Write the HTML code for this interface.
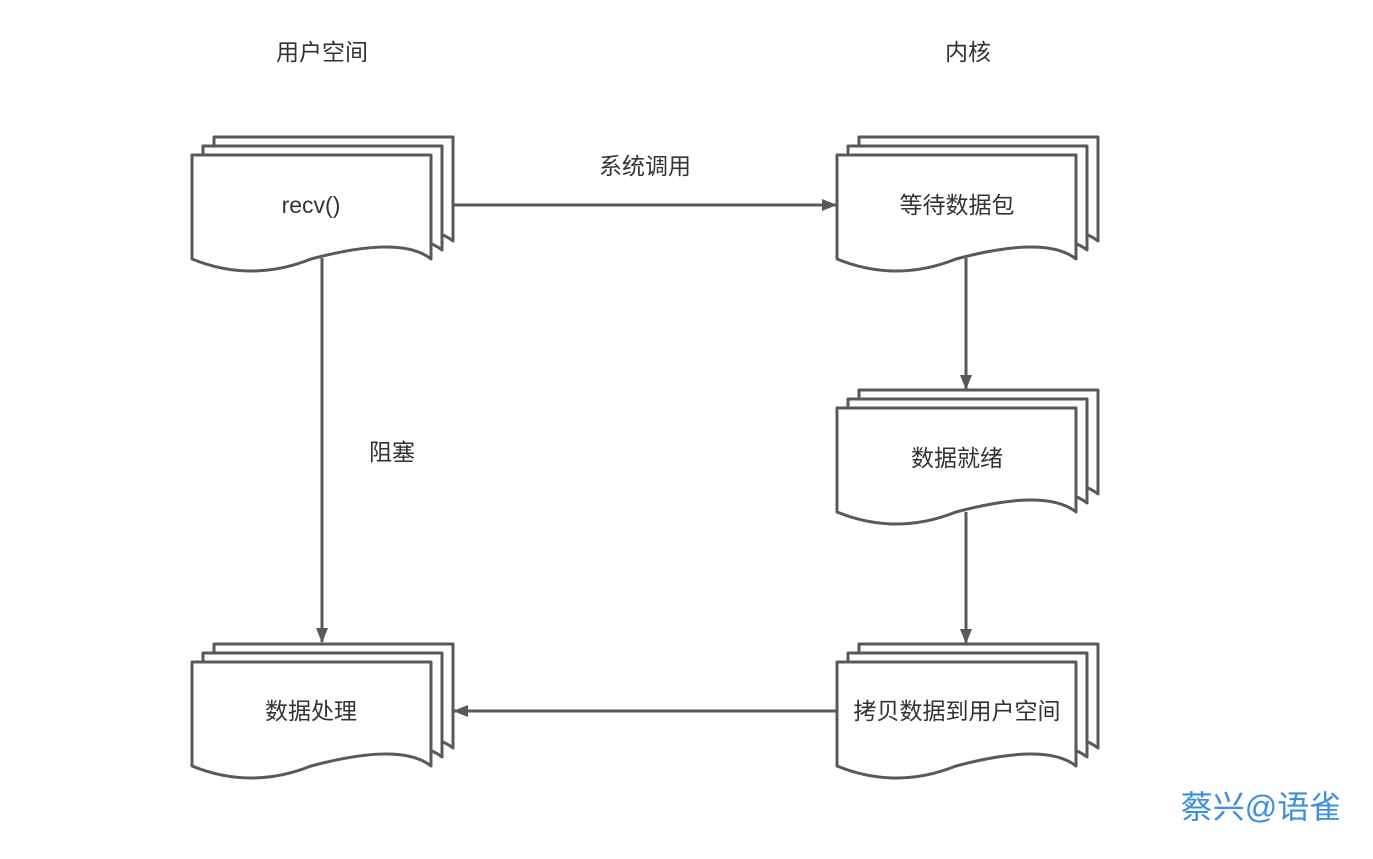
<!DOCTYPE html>
<html><head><meta charset="utf-8"><style>
html,body{margin:0;padding:0;background:#fff;}
svg{display:block;}
text{font-family:"Liberation Sans","Noto Sans CJK SC",sans-serif;fill:#333;}
</style></head><body>
<svg width="1373" height="859" viewBox="0 0 1373 859" xmlns="http://www.w3.org/2000/svg">
<defs>
<g id="doc">
<path d="M22,-18 H261 V86 Q231,62 141,86 Q81,110 22,86 Z" fill="#fff" stroke="#595959" stroke-width="3" stroke-linejoin="round"/>
<path d="M11,-9 H250 V95 Q220,71 130,95 Q70,119 11,95 Z" fill="#fff" stroke="#595959" stroke-width="3" stroke-linejoin="round"/>
<path d="M0,0 H239 V104 Q209,80 119,104 Q59,128 0,104 Z" fill="#fff" stroke="#595959" stroke-width="3" stroke-linejoin="round"/>
</g>
<marker id="ah" markerWidth="16" markerHeight="14" refX="14" refY="6" orient="auto" markerUnits="userSpaceOnUse">
<path d="M0,0 L15,6 L0,12 Z" fill="#595959"/>
</marker>
</defs>
<g stroke="#595959" stroke-width="3" fill="none">
<line x1="453" y1="205" x2="836" y2="205" marker-end="url(#ah)"/>
<line x1="322" y1="258" x2="322" y2="642" marker-end="url(#ah)"/>
<line x1="966" y1="258" x2="966" y2="389" marker-end="url(#ah)"/>
<line x1="966" y1="512" x2="966" y2="643" marker-end="url(#ah)"/>
<line x1="837" y1="711" x2="454" y2="711" marker-end="url(#ah)"/>
</g>
<use href="#doc" x="192" y="155"/>
<use href="#doc" x="837" y="155"/>
<use href="#doc" x="837" y="408"/>
<use href="#doc" x="192" y="662"/>
<use href="#doc" x="837" y="662"/>
<g font-size="23" text-anchor="middle">
<text x="322" y="60">用户空间</text>
<text x="968" y="60">内核</text>
<text x="645" y="174">系统调用</text>
<text x="392" y="460">阻塞</text>
<text x="311" y="213">recv()</text>
<text x="957" y="213">等待数据包</text>
<text x="957" y="466">数据就绪</text>
<text x="311" y="719">数据处理</text>
<text x="957" y="719">拷贝数据到用户空间</text>
</g>
<text x="1261" y="818" font-size="32" text-anchor="middle" style="fill:#3e8fe0">蔡兴@语雀</text>
</svg>
</body></html>
